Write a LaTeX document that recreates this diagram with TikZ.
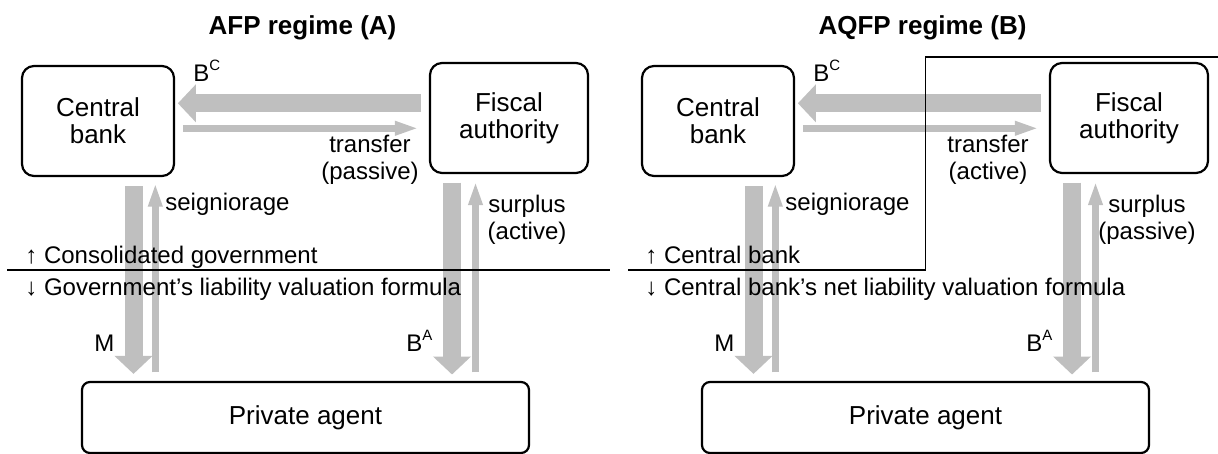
\documentclass[tikz,border=0pt]{standalone}
\usepackage{fontspec}
\setmainfont{Liberation Sans}
\usetikzlibrary{arrows.meta, positioning}
\definecolor{flowgray}{HTML}{BFBFBF}
\newcommand{\suplbl}[2]{#1\raisebox{5.6pt}{\fontsize{7.5}{8}\selectfont #2}}
\tikzset{x=0.5pt, y=-0.5pt,
         box/.style={draw, line width=1.1pt, rounded corners=6pt, align=center,
                     inner sep=0pt, font=\fontsize{13}{13.5}\selectfont},
         headline/.style={anchor=base, font=\fontsize{13}{15}\selectfont\bfseries},
         lbl/.style={anchor=base west, inner sep=0pt, font=\fontsize{12}{13.5}\selectfont},
         flowlbl/.style={align=center, inner sep=0pt, font=\fontsize{12}{13.5}\selectfont},
         bigflow/.style={draw=flowgray, line width=9pt, -{Triangle[length=9pt, width=18.5pt]}},
         smallflow/.style={draw=flowgray, line width=3.5pt, -{Triangle[length=12pt, width=6.5pt]}},
         divider/.style={line width=0.7pt},
        }

\begin{document}
\begin{tikzpicture}
    \useasboundingbox (0,0) rectangle (1218,454);

    % AFP regime
    \node[headline] (titleA) at (302.5,35) {AFP regime (A)};
    \node[box, minimum width=76pt, minimum height=55pt] (cbA) at (98,121) {Central\\bank};
    \node[box, minimum width=79pt, minimum height=55pt] (faA) at (509,118) {Fiscal\\authority};
    \node[box, rounded corners=4pt, minimum width=223.5pt, minimum height=35.5pt] (paA) at (305.5,417.5) {Private agent};

    \draw[bigflow, shorten <=4.2pt, shorten >=1.4pt] (faA.west |- 0,103.3) -- (cbA.east |- 0,103.3);
    \draw[smallflow, shorten <=3.9pt, shorten >=5pt] (cbA.east |- 0,128.3) -- (faA.west |- 0,128.3);
    \draw[bigflow, shorten <=4.5pt, shorten >=3.5pt] (cbA.south -| 133.5,0) -- (paA.north -| 133.5,0);
    \draw[smallflow, shorten <=4.3pt, shorten >=2.8pt] (paA.north -| 155.3,0) -- (cbA.south -| 155.3,0);
    \draw[bigflow, shorten <=4.3pt, shorten >=3.2pt] (faA.south -| 452,0) -- (paA.north -| 452,0);
    \draw[smallflow, shorten <=4.3pt, shorten >=3.5pt] (paA.north -| 475.5,0) -- (faA.south -| 475.5,0);

    \node[lbl] (bcA) at (193,81.7) {\suplbl{B}{C}};
    \node[flowlbl] (trA) at (370,160) {transfer\\(passive)};
    \node[lbl] (seA) at (165,211) {seigniorage};
    \node[flowlbl] (suA) at (527,220) {surplus\\(active)};
    \node[lbl] (mA) at (94,351.7) {M};
    \node[lbl] (baA) at (406,351.7) {\suplbl{B}{A}};

    \draw[divider] (7,270) -- (610,270);
    \node[lbl] (upA) at (25,263.3) {↑ Consolidated government};
    \node[lbl] (dnA) at (25,295) {↓ Government’s liability valuation formula};

    % AQFP regime
    \node[headline] (titleB) at (922.5,35) {AQFP regime (B)};
    \node[box, minimum width=76pt, minimum height=55pt] (cbB) at (718,121) {Central\\bank};
    \node[box, minimum width=79pt, minimum height=55pt] (faB) at (1129,118) {Fiscal\\authority};
    \node[box, rounded corners=4pt, minimum width=223.5pt, minimum height=35.5pt] (paB) at (925.5,417.5) {Private agent};

    \draw[bigflow, shorten <=4.2pt, shorten >=1.4pt] (faB.west |- 0,103.3) -- (cbB.east |- 0,103.3);
    \draw[smallflow, shorten <=3.9pt, shorten >=5pt] (cbB.east |- 0,128.3) -- (faB.west |- 0,128.3);
    \draw[bigflow, shorten <=4.5pt, shorten >=3.5pt] (cbB.south -| 753.5,0) -- (paB.north -| 753.5,0);
    \draw[smallflow, shorten <=4.3pt, shorten >=2.8pt] (paB.north -| 775.3,0) -- (cbB.south -| 775.3,0);
    \draw[bigflow, shorten <=4.3pt, shorten >=3.2pt] (faB.south -| 1072,0) -- (paB.north -| 1072,0);
    \draw[smallflow, shorten <=4.3pt, shorten >=3.5pt] (paB.north -| 1095.5,0) -- (faB.south -| 1095.5,0);

    \node[lbl] (bcB) at (813,81.7) {\suplbl{B}{C}};
    \node[flowlbl] (trB) at (988,160) {transfer\\(active)};
    \node[lbl] (seB) at (785,211) {seigniorage};
    \node[flowlbl] (suB) at (1147,220) {surplus\\(passive)};
    \node[lbl] (mB) at (714,351.7) {M};
    \node[lbl] (baB) at (1026,351.7) {\suplbl{B}{A}};

    \draw[divider] (628,270) -- (925.7,270) -- (925.7,57) -- (1218,57);
    \node[lbl] (upB) at (645,263.3) {↑ Central bank};
    \node[lbl] (dnB) at (645,295) {↓ Central bank’s net liability valuation formula};
\end{tikzpicture}
\end{document}
